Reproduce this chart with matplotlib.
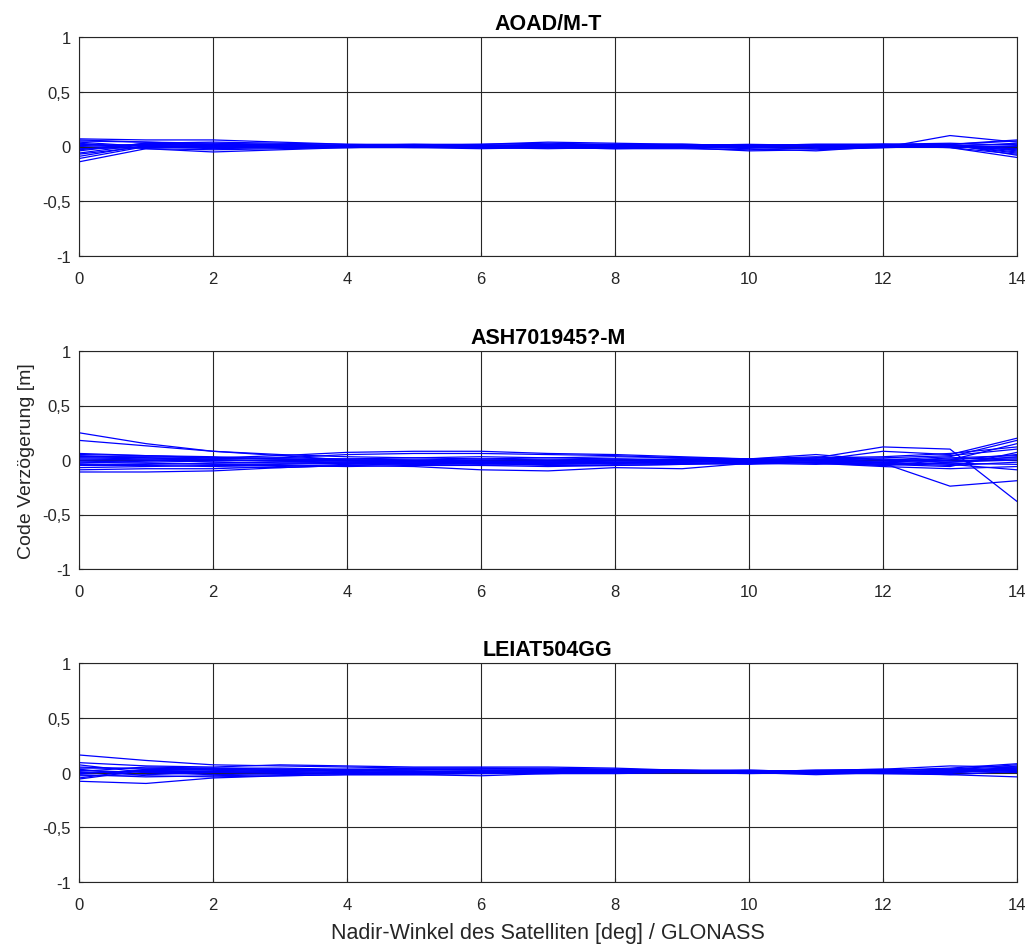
import matplotlib
matplotlib.use("Agg")
import matplotlib.pyplot as plt
import numpy as np

plt.rcParams['font.family'] = ['Liberation Sans', 'DejaVu Sans']

x_vals = list(range(15))
titles = ["AOAD/M-T", "ASH701945?-M", "LEIAT504GG"]
xlabel = "Nadir-Winkel des Satelliten [deg] / GLONASS"
ylabel = "Code Verzögerung [m]"
y_ticks = [-1, -0.5, 0, 0.5, 1]
y_tick_labels = ["-1", "-0,5", "0", "0,5", "1"]
x_ticks = [0, 2, 4, 6, 8, 10, 12, 14]

aoad = [
    [0.07, 0.06, 0.06, 0.04, 0.02, 0.01, 0.01, 0.02, 0.01, 0.01, 0.00, 0.01, 0.02, 0.02, 0.05],
    [0.05, 0.04, 0.03, 0.02, 0.01, 0.02, 0.02, 0.04, 0.03, 0.02, 0.01, 0.02, 0.02, 0.00, -0.02],
    [-0.14, -0.02, -0.05, -0.03, -0.01, 0.00, -0.01, -0.01, -0.02, -0.01, -0.04, -0.03, -0.01, 0.10, 0.04],
    [-0.11, 0.00, -0.02, -0.01, 0.00, 0.01, 0.00, 0.00, -0.01, 0.00, -0.02, -0.04, 0.00, 0.02, -0.08],
    [-0.09, 0.01, 0.00, 0.00, 0.01, 0.00, 0.01, 0.01, 0.00, 0.00, 0.00, 0.01, 0.01, -0.01, -0.10],
    [-0.06, 0.02, 0.01, 0.01, 0.00, -0.01, 0.00, 0.02, 0.01, 0.01, 0.01, 0.02, 0.02, 0.01, -0.06],
    [-0.04, 0.03, 0.02, 0.02, 0.01, 0.01, 0.01, 0.00, 0.00, 0.01, 0.00, 0.00, 0.01, 0.02, -0.04],
    [-0.02, -0.01, 0.00, -0.01, 0.00, 0.00, -0.01, -0.02, -0.01, -0.01, -0.01, 0.00, 0.00, 0.01, -0.02],
    [0.00, 0.02, 0.02, 0.01, 0.01, 0.01, 0.00, 0.01, 0.01, 0.00, 0.00, 0.01, 0.00, 0.00, 0.00],
    [0.02, 0.01, -0.01, 0.00, -0.01, 0.00, 0.01, 0.00, 0.01, 0.02, 0.01, 0.00, 0.01, 0.01, 0.02],
    [0.03, -0.02, -0.03, -0.02, -0.01, -0.01, -0.02, -0.01, -0.02, -0.02, -0.03, -0.01, -0.01, 0.00, 0.03],
    [0.04, 0.00, 0.01, 0.00, 0.00, 0.01, 0.02, 0.03, 0.02, 0.01, 0.00, 0.01, 0.02, 0.03, 0.01],
    [-0.03, 0.03, 0.04, 0.03, 0.02, 0.02, 0.01, 0.01, 0.02, 0.02, 0.01, 0.00, 0.00, 0.01, -0.05],
    [0.01, -0.01, -0.01, -0.01, 0.00, 0.00, 0.00, -0.01, 0.00, -0.01, -0.01, -0.02, -0.01, 0.00, -0.03],
    [-0.07, 0.00, 0.01, 0.00, 0.01, 0.01, 0.00, 0.00, 0.00, 0.01, 0.02, 0.01, 0.01, 0.02, 0.06],
    [0.06, 0.04, 0.02, 0.01, 0.00, 0.00, 0.01, 0.00, -0.01, 0.00, 0.01, 0.00, 0.00, -0.01, -0.07],
]

ash = [
    [0.25, 0.15, 0.08, 0.04, 0.00, -0.01, -0.02, -0.02, -0.01, 0.00, 0.00, 0.02, 0.12, 0.10, -0.38],
    [0.18, 0.13, 0.08, 0.05, 0.03, 0.02, 0.01, 0.00, 0.00, 0.01, 0.00, 0.01, -0.03, -0.24, -0.19],
    [0.05, 0.04, 0.02, 0.04, 0.07, 0.08, 0.08, 0.06, 0.05, 0.03, 0.01, 0.00, 0.08, 0.05, 0.20],
    [0.03, 0.02, 0.01, 0.02, 0.05, 0.06, 0.06, 0.05, 0.04, 0.02, 0.01, 0.05, 0.00, 0.03, 0.18],
    [-0.11, -0.11, -0.10, -0.07, -0.05, -0.06, -0.09, -0.10, -0.07, -0.08, -0.03, -0.02, -0.05, 0.00, 0.15],
    [-0.09, -0.08, -0.08, -0.06, -0.04, -0.03, -0.03, -0.05, -0.05, -0.04, -0.02, 0.00, -0.02, -0.04, -0.09],
    [-0.07, -0.06, -0.05, -0.05, -0.06, -0.05, -0.05, -0.04, -0.03, -0.02, -0.01, -0.01, -0.04, -0.06, 0.07],
    [0.00, 0.00, -0.02, -0.03, -0.03, -0.02, -0.01, -0.01, 0.00, 0.01, 0.00, -0.01, -0.02, 0.02, 0.04],
    [0.03, 0.03, 0.02, 0.01, 0.00, 0.00, 0.01, 0.02, 0.03, 0.02, 0.01, 0.03, 0.00, -0.02, 0.03],
    [-0.02, -0.03, -0.04, -0.04, -0.03, -0.04, -0.03, -0.02, -0.02, -0.01, -0.02, -0.03, -0.05, -0.02, 0.00],
    [-0.04, -0.04, -0.03, -0.02, -0.02, -0.01, -0.02, -0.03, -0.04, -0.03, -0.02, 0.00, -0.01, 0.01, 0.02],
    [0.01, 0.00, 0.00, -0.01, -0.02, -0.03, -0.04, -0.03, -0.02, -0.03, -0.04, -0.02, -0.03, -0.05, -0.02],
    [0.04, 0.02, 0.00, -0.01, -0.03, -0.04, -0.05, -0.06, -0.05, -0.04, -0.03, -0.04, -0.02, 0.00, 0.05],
    [-0.05, -0.05, -0.06, -0.07, -0.05, -0.03, -0.02, -0.01, -0.02, -0.01, 0.00, 0.01, 0.02, 0.04, 0.10],
    [0.02, 0.01, 0.00, 0.00, -0.01, -0.01, 0.00, 0.00, 0.01, 0.00, -0.01, -0.02, -0.04, -0.03, -0.04],
    [-0.01, -0.02, -0.01, 0.00, 0.01, 0.02, 0.03, 0.02, 0.01, 0.00, 0.00, 0.02, 0.03, 0.06, 0.12],
    [-0.03, -0.01, 0.01, 0.02, 0.01, 0.00, -0.01, -0.02, -0.03, -0.02, -0.01, 0.00, 0.01, -0.01, 0.01],
    [0.06, 0.04, 0.03, 0.01, -0.01, -0.02, -0.03, -0.04, -0.03, -0.02, -0.01, -0.03, -0.06, -0.08, -0.06],
]

leiat = [
    [0.16, 0.11, 0.07, 0.06, 0.05, 0.04, 0.04, 0.03, 0.03, 0.02, 0.02, 0.01, 0.02, 0.03, 0.02],
    [0.09, 0.06, 0.05, 0.07, 0.06, 0.05, 0.05, 0.05, 0.04, 0.02, 0.01, 0.02, 0.03, 0.06, 0.05],
    [-0.08, -0.10, -0.05, -0.03, -0.02, -0.02, -0.03, -0.01, 0.00, 0.00, 0.00, -0.01, 0.00, -0.02, 0.01],
    [-0.06, 0.02, 0.03, 0.03, 0.02, 0.01, 0.01, 0.02, 0.02, 0.01, 0.00, 0.01, 0.02, 0.04, 0.08],
    [0.05, 0.03, 0.02, 0.01, 0.00, 0.00, -0.01, -0.01, -0.01, 0.00, 0.01, 0.00, -0.01, -0.02, -0.04],
    [0.03, -0.03, -0.04, -0.03, -0.02, -0.02, -0.01, 0.00, 0.00, 0.01, 0.01, 0.00, 0.00, 0.01, 0.03],
    [-0.03, -0.02, 0.00, 0.01, 0.02, 0.02, 0.03, 0.03, 0.02, 0.02, 0.01, 0.00, 0.02, 0.03, 0.05],
    [0.00, 0.01, 0.01, 0.02, 0.03, 0.03, 0.02, 0.02, 0.01, 0.00, 0.00, 0.01, 0.01, 0.00, 0.02],
    [0.07, 0.00, -0.02, -0.01, 0.00, 0.01, 0.01, 0.00, 0.00, 0.01, 0.01, 0.02, 0.01, 0.02, 0.04],
    [-0.05, 0.03, 0.04, 0.04, 0.03, 0.03, 0.02, 0.02, 0.02, 0.01, 0.02, 0.01, 0.00, 0.01, 0.00],
    [0.02, 0.00, 0.00, 0.00, 0.01, 0.00, 0.00, 0.01, 0.01, 0.00, -0.01, 0.00, 0.01, 0.00, 0.03],
    [-0.02, -0.04, -0.03, -0.02, -0.01, -0.01, 0.00, -0.01, 0.00, 0.01, 0.00, -0.01, -0.01, -0.01, 0.06],
    [0.04, 0.04, 0.03, 0.02, 0.02, 0.04, 0.04, 0.04, 0.03, 0.02, 0.01, 0.02, 0.03, 0.02, 0.01],
    [-0.01, 0.02, 0.01, 0.00, -0.01, 0.00, 0.01, 0.01, 0.00, 0.00, 0.00, -0.02, 0.00, 0.01, 0.04],
    [0.01, 0.05, 0.04, 0.03, 0.02, 0.01, 0.00, 0.00, 0.01, 0.02, 0.02, 0.01, 0.02, 0.03, 0.07],
]

panels = [aoad, ash, leiat]

fig = plt.figure(figsize=(10.30, 9.45), dpi=100)
left = 79 / 1030
width = (1017 - 79) / 1030
tops_px = [38, 352, 664]
bottoms_px = [257, 570, 883]

for i, (series, title) in enumerate(zip(panels, titles)):
    b = 1 - bottoms_px[i] / 945
    h = (bottoms_px[i] - tops_px[i]) / 945
    ax = fig.add_axes([left, b, width, h])
    ax.set_xlim(0, 14)
    ax.set_ylim(-1, 1)
    ax.set_xticks(x_ticks)
    ax.set_yticks(y_ticks)
    ax.set_yticklabels(y_tick_labels)
    ax.grid(True, color='0.15', linewidth=0.8)
    ax.set_axisbelow(True)
    for s in series:
        ax.plot(x_vals, s, color=(0, 0, 1), linewidth=0.9)
    for sp in ax.spines.values():
        sp.set_color('0.15')
        sp.set_linewidth(0.8)
    ax.tick_params(direction='in', length=3, labelsize=12, colors='0.15')
    ax.tick_params(axis='x', pad=11)
    ax.tick_params(axis='y', pad=6)
    ax.set_title(title, fontsize=15.5, fontweight='bold', pad=6)
    if i == 1:
        ax.set_ylabel(ylabel, fontsize=14, color='0.15', labelpad=5)
    if i == 2:
        ax.set_xlabel(xlabel, fontsize=15.5, color='0.15', labelpad=7)

fig.savefig("out.png", dpi=100)
